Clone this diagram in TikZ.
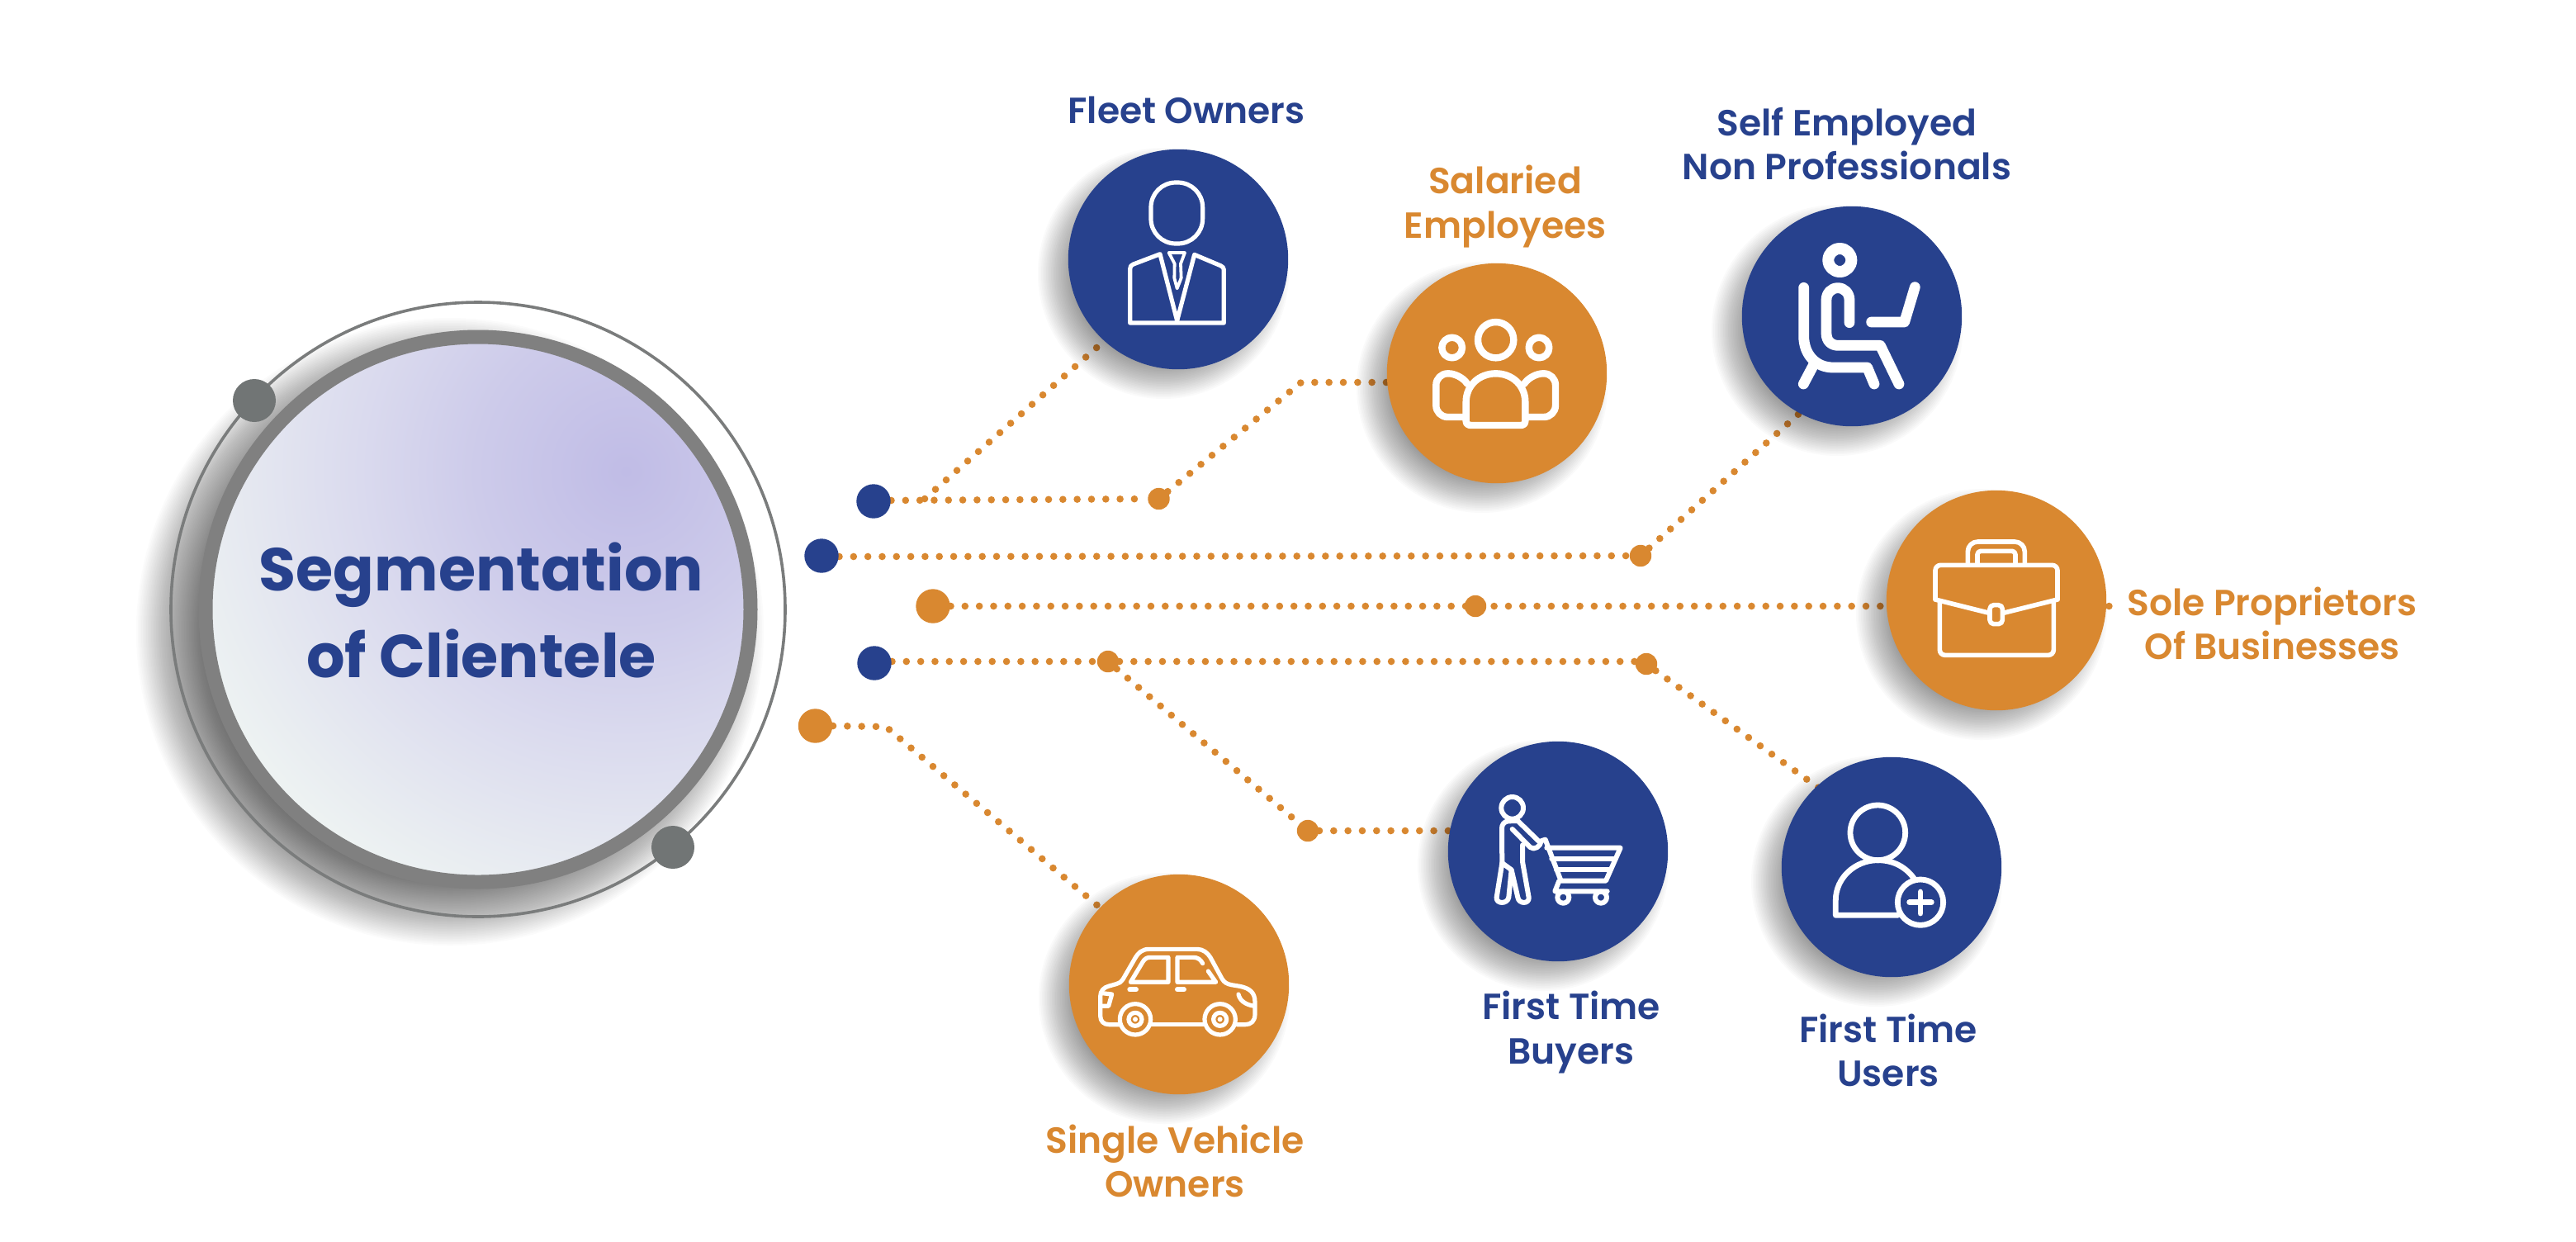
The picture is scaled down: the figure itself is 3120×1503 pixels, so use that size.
\documentclass[tikz,border=0pt]{standalone}
\usepackage{fontspec}
\setmainfont{Poppins}
\newfontfamily\lblfont{Poppins SemiBold}
\newfontfamily\ttlfont{Poppins Bold}
\definecolor{navy}{HTML}{27418D}
\definecolor{amber}{HTML}{D98830}
\definecolor{ringgray}{HTML}{808080}
\definecolor{dotgray}{HTML}{717575}
\definecolor{orbitgray}{HTML}{7A7C7C}
\definecolor{fa}{HTML}{C0BCE6}
\definecolor{fb}{HTML}{CDCBEA}
\definecolor{fc}{HTML}{DADAEE}
\definecolor{fd}{HTML}{EDF2F2}
\pgfdeclareradialshading{focusshade}{\pgfpoint{0bp}{0bp}}{color(0bp)=(fa);color(6.5bp)=(fb);color(11.5bp)=(fc);color(20bp)=(fd);color(50bp)=(fd)}
\pgfdeclarelayer{paper}
\pgfdeclarelayer{lines}
\pgfdeclarelayer{shadow}
\pgfsetlayers{paper,lines,shadow,main}
\newcommand{\softshadow}[6]{% x y r blur steps alpha
  \begin{pgfonlayer}{shadow}
  \foreach \k in {0,...,#5}{
    \pgfmathsetmacro{\rr}{#3+#4-2*#4*\k/#5}
    \fill[black,opacity=#6] (#1,#2) circle[radius=\rr];
  }
  \end{pgfonlayer}
}
\tikzset{
  dotline/.style={amber,line width=2.15pt,line cap=round,dash pattern=on 0pt off 4.33pt},
  badge/.style={circle,minimum size=66.6pt,inner sep=0pt},
  hubdot/.style={circle,minimum size=10.35pt,inner sep=0pt},
  joint/.style={circle,minimum size=6.6pt,inner sep=0pt,fill=amber},
  bluelabel/.style={text=navy,align=center,inner sep=0pt,font=\lblfont\fontsize{11pt}{13.3pt}\selectfont},
  amberlabel/.style={text=amber,align=center,inner sep=0pt,font=\lblfont\fontsize{11pt}{13.3pt}\selectfont},
  icon/.style={white,line width=1.3pt,line join=round,line cap=round},
  iconfrom/.style={shift={#1},x=0.08333pt,y=-0.08333pt},
}
\begin{document}
\begin{tikzpicture}[x=0.25pt,y=-0.25pt]
\useasboundingbox (0,0) rectangle (3120,1503);
\begin{pgfonlayer}{paper}
\fill[white] (0,0) rectangle (3120,1503);
\end{pgfonlayer}

% central element
\softshadow{545}{765}{330}{50}{50}{0.017}
\node[circle,draw=orbitgray,line width=0.9pt,minimum size=186pt,inner sep=0pt] (orbit) at (579,738) {};
\node[circle,draw=ringgray,line width=4.25pt,minimum size=165pt,inner sep=0pt,
  path picture={\shade[shading=focusshade] (-521,-867) rectangle (879,533);}] (hub) at (579,738) {};
\node[align=center,inner sep=0pt,text=navy,font=\ttlfont\fontsize{18.3pt}{26.2pt}\selectfont] (title) at (583,739) {Segmentation\\of Clientele};
\node[circle,fill=dotgray,minimum size=13pt,inner sep=0pt] (sat1) at (308,485) {};
\node[circle,fill=dotgray,minimum size=13pt,inner sep=0pt] (sat2) at (815,1026) {};

% badges
\foreach \x/\y in {1427/314,1813/452,2243/383,2418/727,2291/1050,1887/1031,1428/1192}{
  \softshadow{\x-18}{\y+17}{128}{24}{24}{0.018}
}
\node[badge,fill=navy]  (fleet)    at (1427,314) {};
\node[badge,fill=amber] (salaried) at (1813,452) {};
\node[badge,fill=navy]  (self)     at (2243,383) {};
\node[badge,fill=amber] (sole)     at (2418,727) {};
\node[badge,fill=navy]  (users)    at (2291,1050) {};
\node[badge,fill=navy]  (buyers)   at (1887,1031) {};
\node[badge,fill=amber] (car)      at (1428,1192) {};

% hub dots and joints
\node[hubdot,fill=navy]  (d1) at (1058,607) {};
\node[hubdot,fill=navy]  (d2) at (995,673) {};
\node[hubdot,fill=amber] (d3) at (1130,734) {};
\node[hubdot,fill=navy]  (d4) at (1059,803) {};
\node[hubdot,fill=amber] (d5) at (987.5,879) {};
\node[joint] (j1) at (1403.5,604) {};
\node[joint] (j2) at (1987,673) {};
\node[joint] (j3) at (1787,734) {};
\node[joint] (j4) at (1994,804) {};
\node[joint] (j5) at (1342,801) {};
\node[joint] (j6) at (1584,1006) {};

\coordinate (k1) at (1120,604);
\coordinate (e1) at (1360,393);
\coordinate (k2) at (1576,463);
\coordinate (e3) at (2200,482);
\coordinate (e4) at (2556,734);
\coordinate (e5) at (2225,970);
\coordinate (k7) at (1073,880);
\coordinate (e7) at (1350,1114);

\begin{pgfonlayer}{lines}
\draw[dotline] (d1.east |- 0,606) -- (j1);
\draw[dotline] (k1) -- (e1);
\draw[dotline] (j1) -- (k2) -- (salaried.center |- k2);
\draw[dotline] (d2.east |- 0,674) -- (j2) -- (e3);
\draw[dotline] (d3.east) -- (e4);
\draw[dotline] (d4.east |- 0,801) -- (j5) -- (j4 |- 0,801);
\draw[dotline] (j4) -- (e5);
\draw[dotline] (j5) -- (j6) -- (buyers.center |- j6);
\draw[dotline] (d5.east) -- (k7) -- (e7);
\end{pgfonlayer}

% labels
\node[bluelabel]  (lfleet) at (1437,133) {Fleet Owners};
\node[amberlabel] (lsal)   at (1823,250) {Salaried\\Employees};
\node[bluelabel]  (lself)  at (2237,174) {Self Employed\\Non Professionals};
\node[amberlabel] (lsole)  at (2752,755) {Sole Proprietors\\Of Businesses};
\node[bluelabel]  (luser)  at (2287,1272) {First Time\\Users};
\node[bluelabel]  (lbuy)   at (1903,1250) {First Time\\Buyers};
\node[amberlabel] (lcar)   at (1423,1406) {Single Vehicle\\Owners};

% fleet icon
\begin{scope}[iconfrom={(1270,160)}]
\draw[icon,rounded corners=7.5pt] (372,183) rectangle (560,405);
\draw[icon] (296,693) -- (296,497) .. controls (296,488) and (300,483) .. (308,480) -- (405,443) -- (467,685) -- (530,445) -- (625,485) .. controls (633,489) and (637,493) .. (637,500) -- (637,693) -- cycle;
\draw[icon,line width=0.95pt] (437,438) -- (495,438) -- (480,478) -- (482,530) -- (467,568) -- (457,530) -- (458,478) -- cycle;
\end{scope}

% salaried icon
\begin{scope}[iconfrom={(1660,300)},every path/.append style={icon,line width=2.1pt}]
\draw (455,335) circle[radius=65];
\draw (296,363) circle[radius=37];
\draw (612,363) circle[radius=37];
\draw[rounded corners=3.5pt] (345,615) -- (238,615) -- (238,457) -- (325,457) -- (352,495);
\draw[rounded corners=3.5pt] (565,615) -- (672,615) -- (672,457) -- (585,457) -- (558,495);
\draw (347,560) .. controls (347,500) and (395,457) .. (455,457) .. controls (515,457) and (562,500) .. (562,560) -- (562,630) .. controls (562,640) and (555,645) .. (545,645) -- (365,645) .. controls (355,645) and (347,640) .. (347,630) -- cycle;
\end{scope}

% self employed icon
\begin{scope}[iconfrom={(2090,230)},every path/.append style={icon,line width=3.2pt}]
\draw[line width=3.5pt] (415,255) circle[radius=42];
\draw (284,355) -- (284,530) .. controls (284,600) and (330,645) .. (390,645) -- (515,645) -- (540,705);
\draw (283,705) -- (320,635);
\draw (450,482) -- (450,400) .. controls (450,375) and (432,356) .. (408,356) .. controls (384,356) and (366,375) .. (366,400) -- (366,520) .. controls (366,550) and (385,565) .. (410,565) -- (562,565) -- (630,705);
\draw (530,480) -- (650,480) -- (688,353);
\end{scope}

% briefcase icon
\begin{scope}[iconfrom={(2270,580)},every path/.append style={icon,line width=1.4pt}]
\draw[rounded corners=1.6pt] (222,438) -- (222,313) -- (666,313) -- (666,438);
\draw (222,438) -- (418,487);
\draw (666,438) -- (469,487);
\draw[rounded corners=1.2pt] (420,458) rectangle (466,527);
\draw[rounded corners=1.6pt] (238,445) -- (238,640) -- (652,640) -- (652,445);
\draw[rounded corners=3pt] (340,305) -- (340,228) -- (547,228) -- (547,305);
\draw[rounded corners=1pt] (375,305) -- (375,262) -- (513,262) -- (513,305);
\end{scope}

% first time users icon
\begin{scope}[iconfrom={(2150,910)},every path/.append style={icon,line width=1.7pt}]
\draw (373,295) circle[radius=100];
\draw (445,595) -- (220,595) -- (220,540) .. controls (220,460) and (290,395) .. (373,395) .. controls (430,395) and (475,420) .. (505,462);
\draw (528,548) circle[radius=83];
\draw (488,548) -- (568,548);
\draw (528,510) -- (528,588);
\end{scope}

% first time buyers icon
\begin{scope}[iconfrom={(1740,890)},every path/.append style={icon,line width=1.5pt}]
\draw (275,265) circle[radius=40];
\draw (238,465) -- (237,340) .. controls (237,325) and (245,315) .. (260,313) -- (295,312) -- (370,385);
\draw (275,342) -- (340,408) .. controls (355,420) and (378,405) .. (380,385) -- (395,380) -- (450,525);
\draw (238,465) -- (218,590) .. controls (215,615) and (258,615) .. (262,590) -- (272,490) -- (238,465);
\draw (312,400) -- (312,460) -- (335,590) .. controls (338,615) and (298,615) .. (295,590) -- (272,490);
\draw (400,410) -- (668,410) -- (615,530) -- (445,530) -- (430,568) -- (620,568);
\draw (418,450) -- (650,450);
\draw (435,490) -- (632,490);
\draw (460,590) circle[radius=21];
\draw (597,590) circle[radius=21];
\end{scope}

% car icon
\begin{scope}[iconfrom={(1280,1050)},every path/.append style={icon,line width=1.3pt}]
\draw (230,572) -- (190,572) .. controls (170,572) and (158,560) .. (158,540) -- (158,470) .. controls (158,450) and (170,437) .. (190,432) -- (215,425) .. controls (228,420) and (235,418) .. (240,408) -- (285,330) .. controls (295,312) and (310,298) .. (335,298) -- (510,298) .. controls (532,298) and (548,312) .. (558,328) -- (600,405) .. controls (608,420) and (620,425) .. (635,428) -- (665,433) .. controls (700,440) and (720,455) .. (720,490) -- (720,535) .. controls (720,560) and (705,572) .. (685,572) -- (655,572);
\draw (345,572) -- (535,572);
\draw (285,553) circle[radius=56];
\draw (593,553) circle[radius=56];
\draw (285,553) circle[radius=24];
\draw (593,553) circle[radius=24];
\fill[white,draw=none] (285,553) circle[radius=9];
\fill[white,draw=none] (593,553) circle[radius=9];
\draw (405,328) -- (340,328) .. controls (325,328) and (318,335) .. (312,345) -- (268,418) -- (405,418) -- cycle;
\draw (530,350) .. controls (522,335) and (512,328) .. (495,328) -- (438,328) -- (438,418) -- (578,418) -- (550,378);
\draw[line width=1.5pt] (265,445) -- (288,445);
\draw[line width=1.5pt] (438,445) -- (462,445);
\draw (165,458) -- (200,462) -- (188,505) -- (165,505);
\draw (660,462) .. controls (665,485) and (685,500) .. (718,505);
\end{scope}
\end{tikzpicture}
\end{document}
